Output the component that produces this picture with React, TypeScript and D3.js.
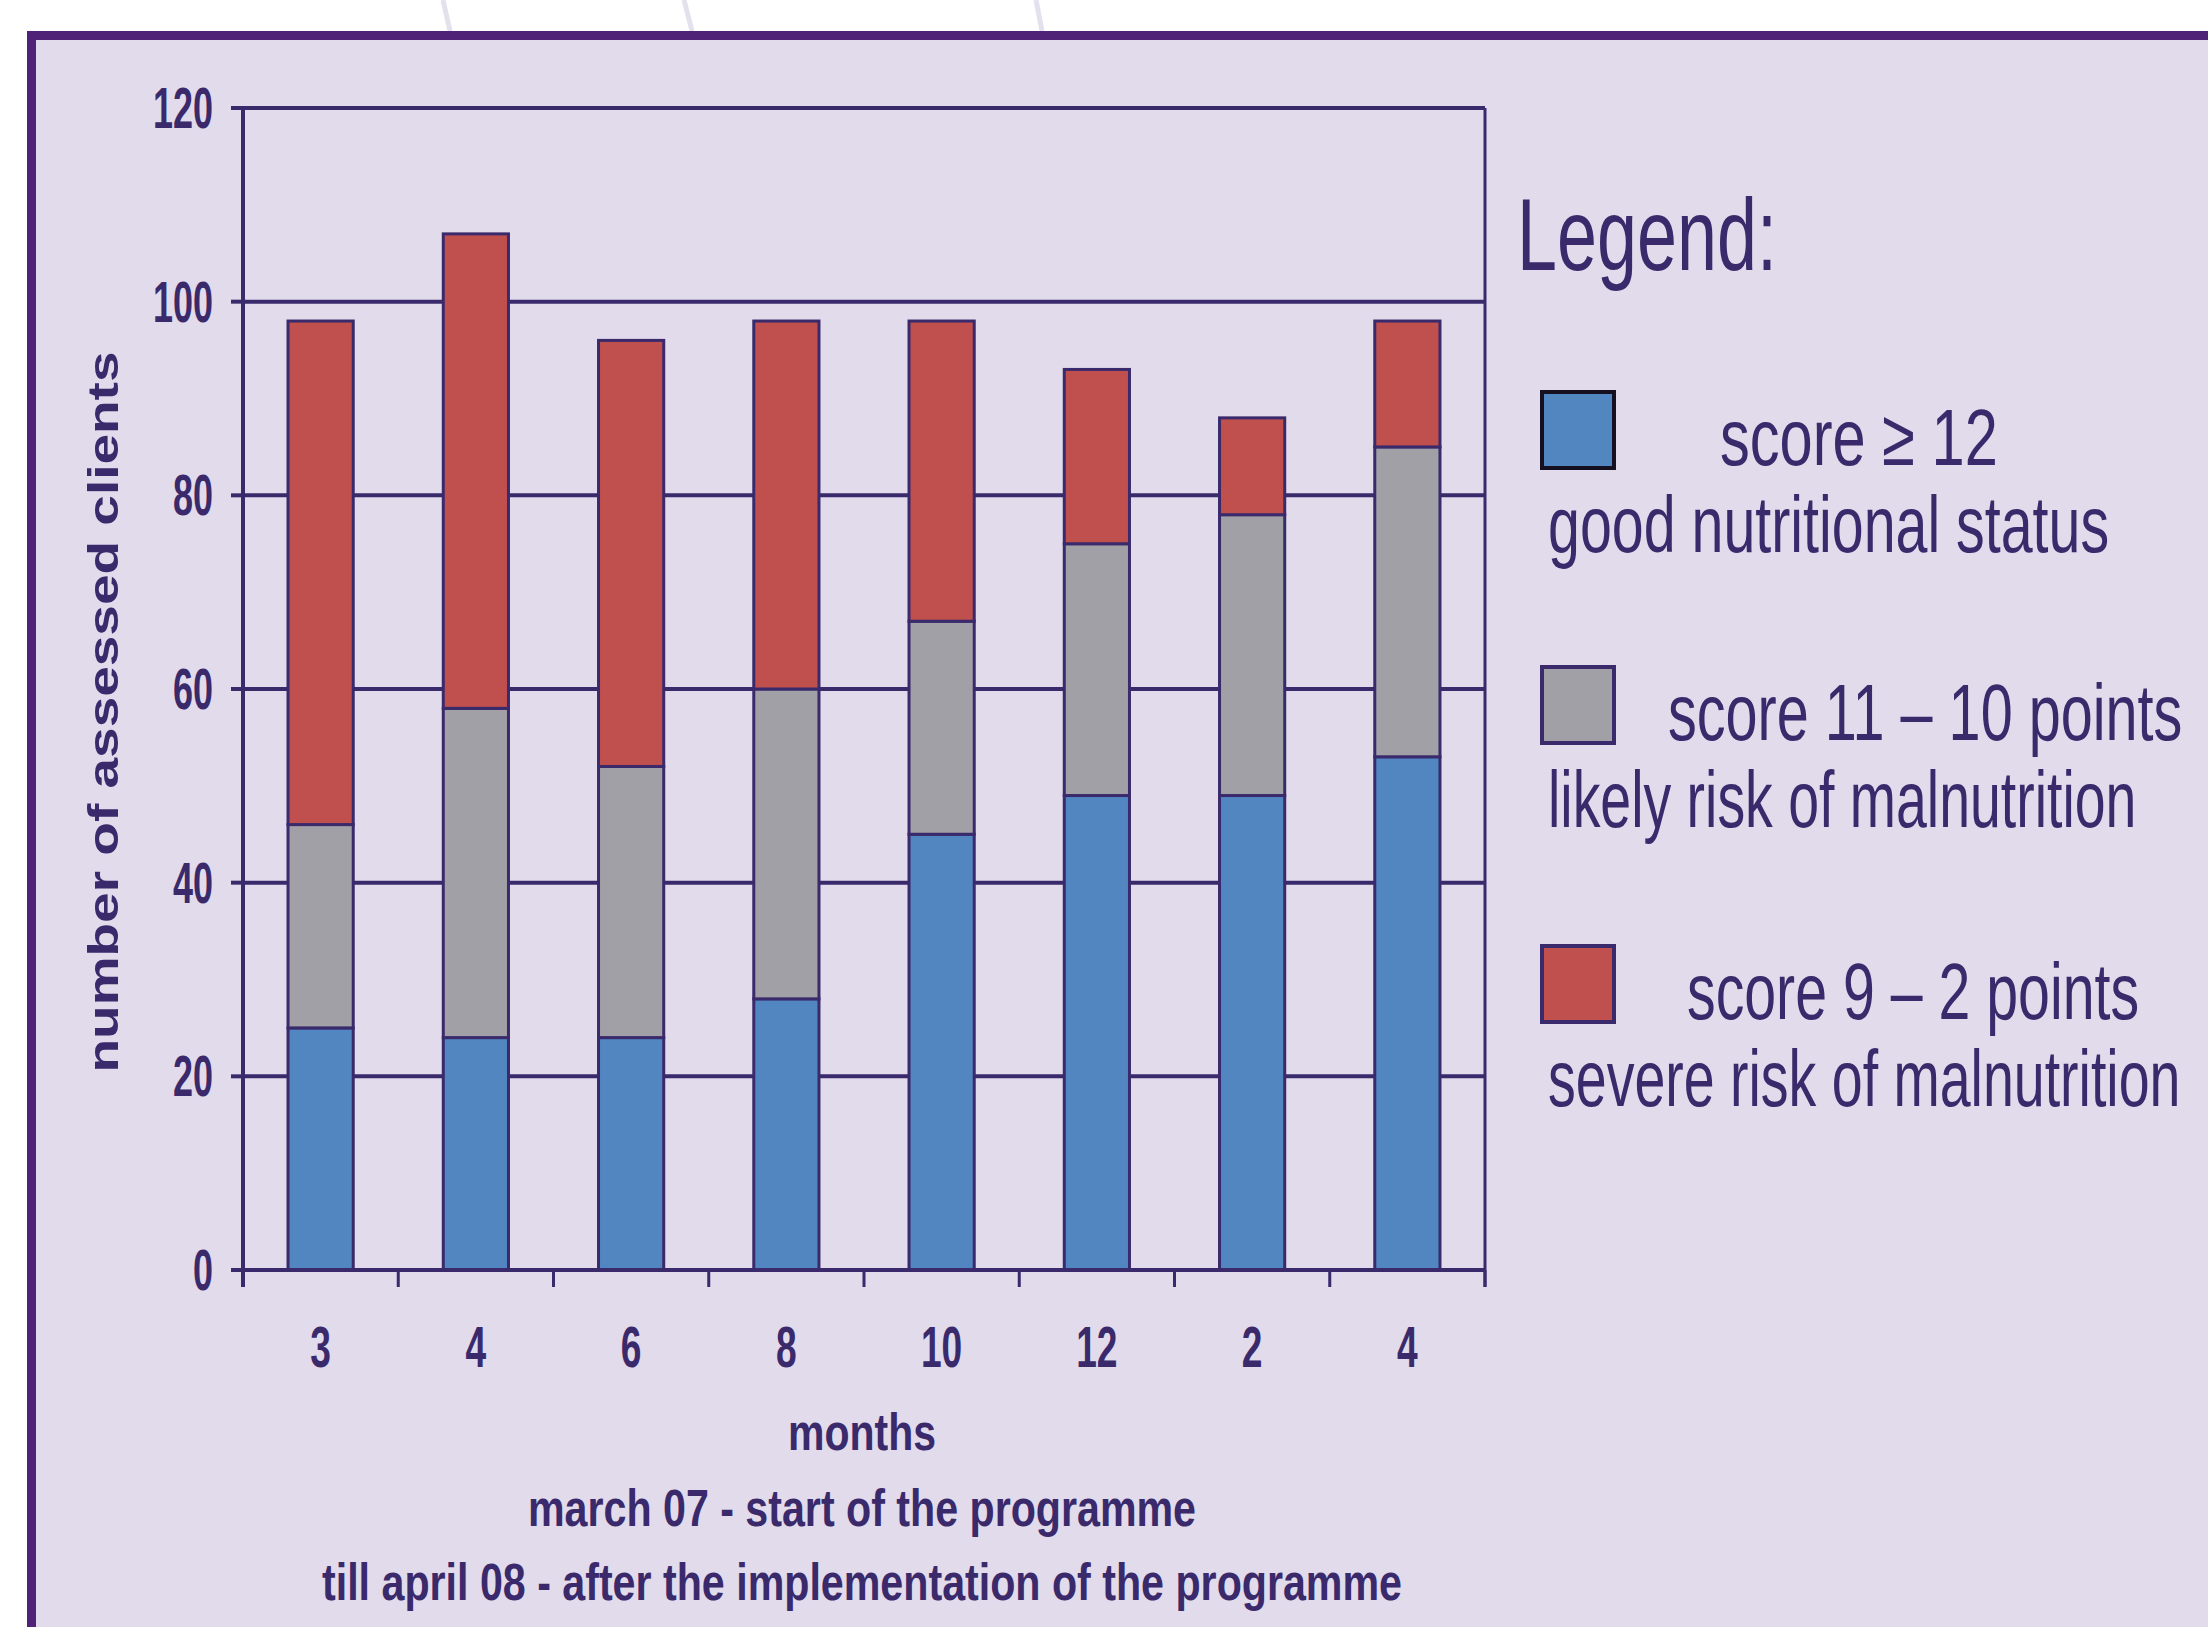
import * as d3 from 'd3';

const months = ['3', '4', '6', '8', '10', '12', '2', '4'];
const good = [25, 24, 24, 28, 45, 49, 49, 53];
const likely = [21, 34, 28, 32, 22, 26, 29, 32];
const severe = [52, 49, 44, 38, 31, 18, 10, 13];
const yTicks = [0, 20, 40, 60, 80, 100, 120];

const seriesKeys = ['good', 'likely', 'severe'];
const seriesColors = ['#5186c1', '#a0a0a6', '#c0504d'];
const legendLabels = [
  ['score \u2265 12', 'good nutritional status'],
  ['score 11 \u2013 10 points', 'likely risk of malnutrition'],
  ['score 9 \u2013 2 points', 'severe risk of malnutrition'],
];

const W = 2208;
const H = 1627;
const INK = '#3a2a6c';
const FONT = '"Liberation Sans", Arial, sans-serif';

const left = 243;
const right = 1485;
const top = 108;
const bottom = 1270;

// condensed text: scale horizontally around the anchor point
function Cond({ x, y, sx, size, weight = 'bold', anchor = 'middle', children }: any) {
  return (
    <text
      transform={`translate(${x},${y}) scale(${sx},1)`}
      textAnchor={anchor}
      fontSize={size}
      fontWeight={weight}
      fontFamily={FONT}
      fill={INK}
    >
      {children}
    </text>
  );
}

export default function App() {
  const rows = months.map((m, i) => ({
    idx: String(i),
    good: good[i],
    likely: likely[i],
    severe: severe[i],
  }));
  const stacked = d3.stack<any>().keys(seriesKeys)(rows);

  const x = d3
    .scaleBand()
    .domain(rows.map((r) => r.idx))
    .range([left, right])
    .paddingInner(0.58)
    .paddingOuter(0.29);
  const y = d3.scaleLinear().domain([0, 120]).range([bottom, top]);
  const step = x.step();
  const boundaries = d3.range(months.length + 1).map((i) => left + i * step);

  const legendY = [392, 667, 946];
  const legendTitleX = [1720, 1668, 1687];
  const legendTitleSx = [0.745, 0.72, 0.716];
  const legendSubSx = [0.717, 0.693, 0.694];

  return (
    <svg
      width={W}
      height={H}
      style={{ position: 'absolute', left: 0, top: 0, display: 'block' }}
    >
      <rect x={0} y={0} width={W} height={H} fill="#ffffff" />
      {/* faint watermark strokes above the frame */}
      <line x1={443} y1={0} x2={450} y2={31} stroke="#e4e0ee" strokeWidth={5} />
      <line x1={684} y1={0} x2={692} y2={31} stroke="#e4e0ee" strokeWidth={5} />
      <line x1={1036} y1={0} x2={1042} y2={31} stroke="#e4e0ee" strokeWidth={5} />

      {/* frame */}
      <rect x={27} y={31} width={W - 27} height={H - 31} fill="#4f2177" />
      <rect x={36} y={40} width={W - 36} height={H - 40} fill="#e1dbeb" />

      {/* gridlines */}
      {yTicks
        .filter((t) => t > 0)
        .map((t) => (
          <line key={t} x1={left} x2={right} y1={y(t)} y2={y(t)} stroke={INK} strokeWidth={4} />
        ))}

      {/* bars */}
      {stacked.map((s, si) =>
        s.map((d, i) => (
          <rect
            key={`${si}-${i}`}
            x={x(String(i))}
            y={y(d[1])}
            width={x.bandwidth()}
            height={y(d[0]) - y(d[1])}
            fill={seriesColors[si]}
            stroke={INK}
            strokeWidth={3}
          />
        ))
      )}

      {/* axes */}
      <line x1={left} x2={left} y1={top} y2={bottom + 17} stroke={INK} strokeWidth={4} />
      <line x1={right} x2={right} y1={top} y2={bottom + 17} stroke={INK} strokeWidth={3} />
      <line x1={left - 12} x2={right} y1={bottom} y2={bottom} stroke={INK} strokeWidth={4} />
      {yTicks.map((t) => (
        <g key={t}>
          <line x1={left - 12} x2={left} y1={y(t)} y2={y(t)} stroke={INK} strokeWidth={4} />
          <Cond x={213} y={y(t) + 20} sx={0.62} size={58} anchor="end">
            {t}
          </Cond>
        </g>
      ))}
      {boundaries.map((b, i) => (
        <line key={i} x1={b} x2={b} y1={bottom} y2={bottom + 17} stroke={INK} strokeWidth={3} />
      ))}
      {months.map((m, i) => (
        <Cond key={i} x={(x(String(i)) as number) + x.bandwidth() / 2} y={1367} sx={0.64} size={58}>
          {m}
        </Cond>
      ))}

      {/* axis titles */}
      <text
        transform="translate(118,712) rotate(-90)"
        textAnchor="middle"
        fontSize={43}
        fontWeight="bold"
        fontFamily={FONT}
        fill={INK}
        textLength={721}
        lengthAdjust="spacingAndGlyphs"
      >
        number of assessed clients
      </text>
      {[
        ['months', 1450, 148],
        ['march 07 - start of the programme', 1526, 668],
        ['till april 08 - after the implementation of the programme', 1600, 1080],
      ].map(([t, by, len]) => (
        <text
          key={t as string}
          x={862}
          y={by as number}
          textAnchor="middle"
          fontSize={52}
          fontWeight="bold"
          fontFamily={FONT}
          fill={INK}
          textLength={len as number}
          lengthAdjust="spacingAndGlyphs"
        >
          {t}
        </text>
      ))}

      {/* legend */}
      <Cond x={1517} y={270} sx={0.705} size={102} weight="normal" anchor="start">
        Legend:
      </Cond>
      {legendLabels.map(([title, sub], i) => (
        <g key={i}>
          <rect
            x={1542}
            y={legendY[i]}
            width={72}
            height={76}
            fill={seriesColors[i]}
            stroke={i === 0 ? '#141020' : INK}
            strokeWidth={4}
          />
          <Cond x={legendTitleX[i]} y={legendY[i] + 73} sx={legendTitleSx[i]} size={80} weight="normal" anchor="start">
            {title}
          </Cond>
          <Cond x={1548} y={legendY[i] + 160} sx={legendSubSx[i]} size={80} weight="normal" anchor="start">
            {sub}
          </Cond>
        </g>
      ))}
    </svg>
  );
}
